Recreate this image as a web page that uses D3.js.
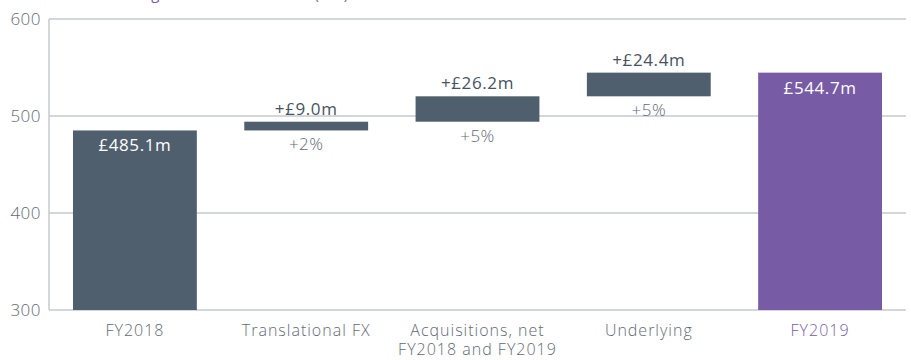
<!DOCTYPE html>
<html>
<head>
<meta charset="utf-8">
<script src="https://cdn.jsdelivr.net/npm/d3@7"></script>
<style>
  html, body { margin: 0; padding: 0; background: #fff; }
  svg { display: block; font-family: "Open Sans", "Noto Sans", sans-serif; }
</style>
</head>
<body>
<svg id="chart" width="911" height="360"></svg>
<script>
// Revenue bridge: opening total, three increments, closing total
const categories = ["FY2018", "Translational FX", "Acquisitions, net\nFY2018 and FY2019", "Underlying", "FY2019"];
const kinds = ["total", "step", "step", "step", "total"];
const values = [485.1, 9.0, 26.2, 24.4, 544.7];
const valueLabels = ["£485.1m", "+£9.0m", "+£26.2m", "+£24.4m", "£544.7m"];
const pctLabels = ["", "+2%", "+5%", "+5%", ""];
const yTicks = [300, 400, 500, 600];
const title = "Revenue bridge FY2018 to FY2019 (£m)";

const slate = "#505f6e", purple = "#785ba5", textGrey = "#5f6a75", grid = "#c5cad0";
const font = "'Open Sans', 'Noto Sans', sans-serif";

const svg = d3.select("#chart");
const m = { left: 49, right: 5, top: 19, bottom: 50 };
const W = 911, H = 360;

const x = d3.scaleBand().domain(categories).range([m.left, W - m.right]).paddingInner(0.277).paddingOuter(0.14);
const y = d3.scaleLinear().domain([300, 600]).range([H - m.bottom, m.top]);

// running base for the floating steps
let run = 0;
const bars = categories.map((c, i) => {
  let lo, hi;
  if (kinds[i] === "total") { lo = 300; hi = values[i]; run = values[i]; }
  else { lo = run; hi = run + values[i]; run = hi; }
  return { c, i, lo, hi };
});

// title (sits above the view)
svg.append("text").attr("x", m.left).attr("y", -1)
  .attr("fill", purple).attr("font-size", 15).attr("letter-spacing", 0.8).text(title);

// gridlines
svg.append("g").selectAll("line").data(yTicks).join("line")
  .attr("x1", m.left).attr("x2", W - m.right)
  .attr("y1", d => y(d)).attr("y2", d => y(d))
  .attr("stroke", grid).attr("stroke-width", 1.5);

// left spine
svg.append("line").attr("x1", m.left).attr("x2", m.left)
  .attr("y1", y(600)).attr("y2", y(300)).attr("stroke", grid).attr("stroke-width", 1.5);

// y tick labels
const yAxis = svg.append("g").attr("transform", `translate(${m.left},0)`)
  .call(d3.axisLeft(y).tickValues(yTicks).tickSize(0).tickPadding(8));
yAxis.select(".domain").remove();
yAxis.selectAll("text").attr("font-size", 17).attr("font-weight", 300)
  .attr("letter-spacing", 0.5).attr("fill", textGrey).attr("font-family", font);

// bars
svg.append("g").selectAll("rect").data(bars).join("rect")
  .attr("x", d => x(d.c)).attr("width", x.bandwidth())
  .attr("y", d => y(d.hi)).attr("height", d => y(d.lo) - y(d.hi))
  .attr("fill", d => d.i === categories.length - 1 ? purple : slate);

// value labels
svg.append("g").selectAll("text").data(bars).join("text")
  .attr("x", d => x(d.c) + x.bandwidth() / 2)
  .attr("y", d => kinds[d.i] === "total" ? y(d.hi) + 21 : y(d.hi) - 7)
  .attr("text-anchor", "middle")
  .attr("font-size", 17).attr("font-weight", 500).attr("letter-spacing", 0.6)
  .attr("fill", d => kinds[d.i] === "total" ? "#fff" : "#47535f")
  .text(d => valueLabels[d.i]);

// percentage labels under the steps
svg.append("g").selectAll("text").data(bars.filter(d => pctLabels[d.i])).join("text")
  .attr("x", d => x(d.c) + x.bandwidth() / 2)
  .attr("y", d => y(d.lo) + 20)
  .attr("text-anchor", "middle")
  .attr("font-size", 17).attr("font-weight", 300).attr("letter-spacing", 0.5)
  .attr("fill", textGrey)
  .text(d => pctLabels[d.i]);

// category labels
const cat = svg.append("g").selectAll("text").data(categories).join("text")
  .attr("x", d => x(d) + x.bandwidth() / 2)
  .attr("y", y(300) + 26)
  .attr("text-anchor", "middle")
  .attr("font-size", 16).attr("font-weight", 300).attr("letter-spacing", 1)
  .attr("fill", (d, i) => i === categories.length - 1 ? purple : textGrey);
cat.selectAll("tspan").data(d => d.split("\n")).join("tspan")
  .attr("x", function() { return this.parentNode.getAttribute("x"); })
  .attr("dy", (d, i) => i === 0 ? 0 : 19)
  .text(d => d);
</script>
</body>
</html>
